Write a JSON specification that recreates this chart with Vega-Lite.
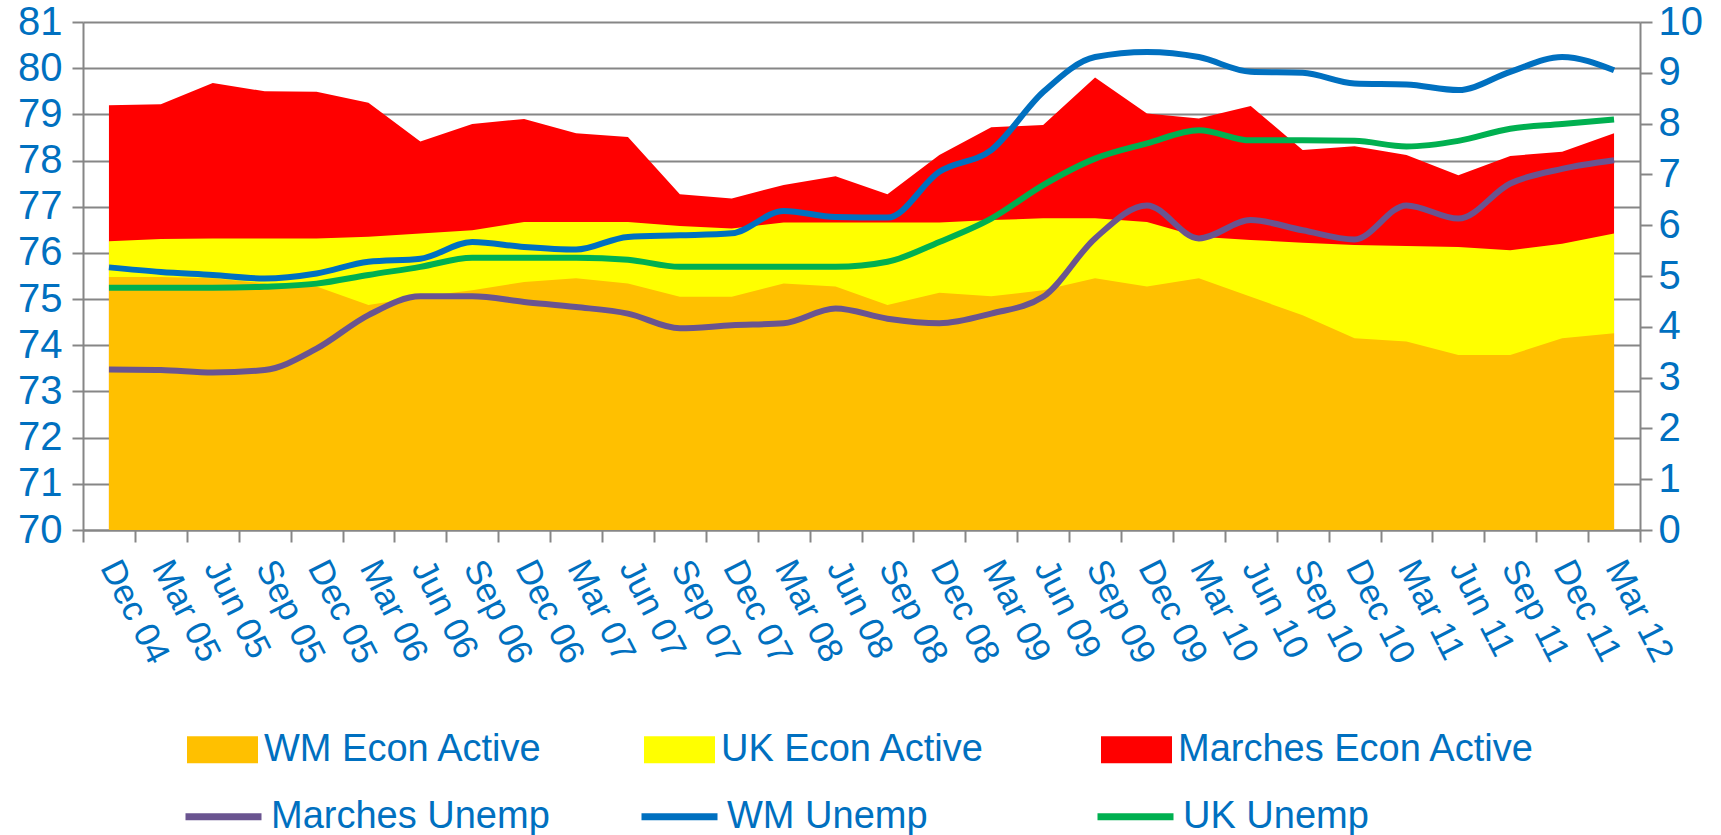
{
  "$schema": "https://vega.github.io/schema/vega-lite/v6.json",
  "width": 1557,
  "height": 508,
  "autosize": {"type": "none"},
  "padding": {"left": 83, "top": 22, "right": 81, "bottom": 305},
  "background": "white",
  "config": {"view": {"stroke": null}, "font": "Liberation Sans, Arial, sans-serif"},
  "data": {"values": [
    {"q": "Dec 04", "m_ea": 79.2, "uk_ea": 76.25, "wm_ea": 75.48, "m_u": 3.16, "wm_u": 5.17, "uk_u": 4.77},
    {"q": "Mar 05", "m_ea": 79.22, "uk_ea": 76.3, "wm_ea": 75.48, "m_u": 3.15, "wm_u": 5.08, "uk_u": 4.77},
    {"q": "Jun 05", "m_ea": 79.68, "uk_ea": 76.31, "wm_ea": 75.45, "m_u": 3.1, "wm_u": 5.02, "uk_u": 4.77},
    {"q": "Sep 05", "m_ea": 79.5, "uk_ea": 76.31, "wm_ea": 75.34, "m_u": 3.15, "wm_u": 4.95, "uk_u": 4.79},
    {"q": "Dec 05", "m_ea": 79.49, "uk_ea": 76.31, "wm_ea": 75.27, "m_u": 3.57, "wm_u": 5.05, "uk_u": 4.85},
    {"q": "Mar 06", "m_ea": 79.25, "uk_ea": 76.35, "wm_ea": 74.87, "m_u": 4.23, "wm_u": 5.28, "uk_u": 5.02},
    {"q": "Jun 06", "m_ea": 78.41, "uk_ea": 76.42, "wm_ea": 75.05, "m_u": 4.6, "wm_u": 5.34, "uk_u": 5.18},
    {"q": "Sep 06", "m_ea": 78.79, "uk_ea": 76.49, "wm_ea": 75.19, "m_u": 4.6, "wm_u": 5.67, "uk_u": 5.36},
    {"q": "Dec 06", "m_ea": 78.9, "uk_ea": 76.67, "wm_ea": 75.37, "m_u": 4.49, "wm_u": 5.57, "uk_u": 5.36},
    {"q": "Mar 07", "m_ea": 78.59, "uk_ea": 76.67, "wm_ea": 75.45, "m_u": 4.39, "wm_u": 5.52, "uk_u": 5.36},
    {"q": "Jun 07", "m_ea": 78.51, "uk_ea": 76.67, "wm_ea": 75.34, "m_u": 4.26, "wm_u": 5.77, "uk_u": 5.32},
    {"q": "Sep 07", "m_ea": 77.27, "uk_ea": 76.58, "wm_ea": 75.05, "m_u": 3.97, "wm_u": 5.8, "uk_u": 5.18},
    {"q": "Dec 07", "m_ea": 77.18, "uk_ea": 76.53, "wm_ea": 75.05, "m_u": 4.03, "wm_u": 5.84, "uk_u": 5.18},
    {"q": "Mar 08", "m_ea": 77.47, "uk_ea": 76.66, "wm_ea": 75.34, "m_u": 4.07, "wm_u": 6.28, "uk_u": 5.18},
    {"q": "Jun 08", "m_ea": 77.66, "uk_ea": 76.66, "wm_ea": 75.27, "m_u": 4.36, "wm_u": 6.16, "uk_u": 5.18},
    {"q": "Sep 08", "m_ea": 77.27, "uk_ea": 76.66, "wm_ea": 74.87, "m_u": 4.16, "wm_u": 6.15, "uk_u": 5.28},
    {"q": "Dec 08", "m_ea": 78.12, "uk_ea": 76.66, "wm_ea": 75.14, "m_u": 4.07, "wm_u": 7.05, "uk_u": 5.67},
    {"q": "Mar 09", "m_ea": 78.72, "uk_ea": 76.71, "wm_ea": 75.06, "m_u": 4.26, "wm_u": 7.48, "uk_u": 6.13},
    {"q": "Jun 09", "m_ea": 78.77, "uk_ea": 76.75, "wm_ea": 75.19, "m_u": 4.59, "wm_u": 8.62, "uk_u": 6.79},
    {"q": "Sep 09", "m_ea": 79.8, "uk_ea": 76.75, "wm_ea": 75.45, "m_u": 5.74, "wm_u": 9.31, "uk_u": 7.31},
    {"q": "Dec 09", "m_ea": 79.02, "uk_ea": 76.67, "wm_ea": 75.27, "m_u": 6.39, "wm_u": 9.41, "uk_u": 7.61},
    {"q": "Mar 10", "m_ea": 78.91, "uk_ea": 76.35, "wm_ea": 75.45, "m_u": 5.74, "wm_u": 9.31, "uk_u": 7.87},
    {"q": "Jun 10", "m_ea": 79.18, "uk_ea": 76.28, "wm_ea": 75.05, "m_u": 6.1, "wm_u": 9.02, "uk_u": 7.67},
    {"q": "Sep 10", "m_ea": 78.23, "uk_ea": 76.22, "wm_ea": 74.65, "m_u": 5.9, "wm_u": 9.0, "uk_u": 7.67},
    {"q": "Dec 10", "m_ea": 78.31, "uk_ea": 76.17, "wm_ea": 74.15, "m_u": 5.72, "wm_u": 8.79, "uk_u": 7.66},
    {"q": "Mar 11", "m_ea": 78.12, "uk_ea": 76.15, "wm_ea": 74.08, "m_u": 6.39, "wm_u": 8.77, "uk_u": 7.55},
    {"q": "Jun 11", "m_ea": 77.68, "uk_ea": 76.13, "wm_ea": 73.79, "m_u": 6.13, "wm_u": 8.66, "uk_u": 7.66},
    {"q": "Sep 11", "m_ea": 78.1, "uk_ea": 76.06, "wm_ea": 73.79, "m_u": 6.82, "wm_u": 9.02, "uk_u": 7.9},
    {"q": "Dec 11", "m_ea": 78.19, "uk_ea": 76.2, "wm_ea": 74.15, "m_u": 7.11, "wm_u": 9.31, "uk_u": 7.99},
    {"q": "Mar 12", "m_ea": 78.59, "uk_ea": 76.42, "wm_ea": 74.26, "m_u": 7.28, "wm_u": 9.05, "uk_u": 8.08}
  ]},
  "encoding": {
    "x": {
      "field": "q", "type": "ordinal", "sort": null, "bandPosition": 0.5,
      "scale": {"type": "band", "paddingInner": 0, "paddingOuter": 0},
      "axis": {
        "title": null, "grid": false, "tickBand": "extent",
        "domainColor": "#868686", "domainWidth": 2,
        "tickColor": "#868686", "tickWidth": 2, "tickSize": 12,
        "labelAngle": 63, "labelAlign": "left", "labelBaseline": "middle",
        "labelColor": "#0070C0", "labelFontSize": 35, "labelPadding": 20
      }
    }
  },
  "layer": [
    {
      "layer": [
        {
          "mark": {"type": "area", "opacity": 1},
          "encoding": {
            "y": {"field": "m_ea", "type": "quantitative", "scale": {"domain": [70, 81], "nice": false, "zero": false},
              "axis": {"title": null, "orient": "left", "values": [70,71,72,73,74,75,76,77,78,79,80,81], "grid": true, "gridColor": "#868686", "gridWidth": 2, "domainColor": "#868686", "domainWidth": 2, "tickColor": "#868686", "tickWidth": 2, "tickSize": 11, "labelColor": "#0070C0", "labelFontSize": 40, "labelPadding": 10}},
            "y2": {"datum": 70},
            "fill": {"datum": "Marches Econ Active", "type": "nominal",
              "scale": {"domain": ["WM Econ Active", "UK Econ Active", "Marches Econ Active"], "range": ["#FFC000", "#FFFF00", "#FF0000"]},
              "legend": {"title": null, "orient": "none", "legendX": 104, "legendY": 692, "direction": "horizontal", "columns": 3, "gridAlign": "all", "columnPadding": 23, "symbolType": "M-1,-0.38H1V0.38H-1Z", "symbolSize": 5041, "symbolStrokeWidth": 0, "labelFontSize": 38, "labelColor": "#0070C0", "labelLimit": 800, "labelOffset": 6}}
          }
        },
        {
          "mark": {"type": "area", "opacity": 1},
          "encoding": {
            "y": {"field": "uk_ea", "type": "quantitative"},
            "y2": {"datum": 70},
            "fill": {"datum": "UK Econ Active", "type": "nominal"}
          }
        },
        {
          "mark": {"type": "area", "opacity": 1},
          "encoding": {
            "y": {"field": "wm_ea", "type": "quantitative"},
            "y2": {"datum": 70},
            "fill": {"datum": "WM Econ Active", "type": "nominal"}
          }
        }
      ]
    },
    {
      "layer": [
        {
          "mark": {"type": "line", "strokeWidth": 6, "interpolate": "monotone"},
          "encoding": {
            "y": {"field": "m_u", "type": "quantitative", "scale": {"domain": [0, 10], "nice": false},
              "axis": {"title": null, "orient": "right", "values": [0,1,2,3,4,5,6,7,8,9,10], "grid": false, "domainColor": "#868686", "domainWidth": 2, "tickColor": "#868686", "tickWidth": 2, "tickSize": 12, "labelColor": "#0070C0", "labelFontSize": 40, "labelPadding": 6}},
            "stroke": {"datum": "Marches Unemp", "type": "nominal",
              "scale": {"domain": ["Marches Unemp", "WM Unemp", "UK Unemp"], "range": ["#6A5490", "#0070C0", "#00B050"]},
              "legend": {"title": null, "orient": "none", "legendX": 99, "legendY": 753, "direction": "horizontal", "columns": 3, "gridAlign": "all", "columnPadding": 77, "symbolType": "stroke", "symbolSize": 5776, "symbolStrokeWidth": 7, "labelFontSize": 38, "labelColor": "#0070C0", "labelLimit": 800, "labelOffset": 6}}
          }
        },
        {
          "mark": {"type": "line", "strokeWidth": 6, "interpolate": "monotone"},
          "encoding": {
            "y": {"field": "wm_u", "type": "quantitative"},
            "stroke": {"datum": "WM Unemp", "type": "nominal"}
          }
        },
        {
          "mark": {"type": "line", "strokeWidth": 6, "interpolate": "monotone"},
          "encoding": {
            "y": {"field": "uk_u", "type": "quantitative"},
            "stroke": {"datum": "UK Unemp", "type": "nominal"}
          }
        }
      ]
    }
  ],
  "resolve": {"scale": {"y": "independent"}}
}
